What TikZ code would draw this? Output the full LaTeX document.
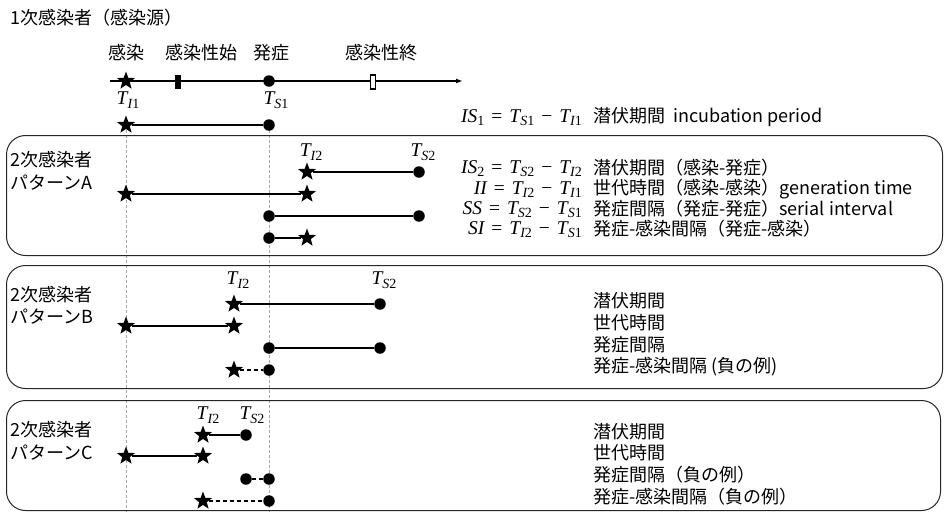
\documentclass[tikz,border=0pt]{standalone}
\usepackage{fontspec}
\setmainfont{Noto Sans CJK JP}
\newfontfamily\eqf{Liberation Serif}
\usetikzlibrary{shapes.geometric,arrows.meta}
\newcommand\mvar[2]{{\eqf\fontsize{19.5}{20}\selectfont\itshape #1}\raisebox{-0.2em}{\eqf\fontsize{14}{14}\selectfont #2}}
\newcommand\iv[1]{{\itshape #1}}
\newcommand\oprel[1]{\hspace{7pt}{\eqf\fontsize{19.5}{20}\selectfont #1}\hspace{7pt}}
\begin{document}
\begin{tikzpicture}[x=1pt,y=-1pt,
  font=\fontsize{18}{22}\selectfont,
  starm/.style={star,star points=5,star point ratio=2.4,minimum size=19pt,inner sep=0pt,fill=black,draw=none},
  dotm/.style={circle,minimum size=11.5pt,inner sep=0pt,fill=black},
  seg/.style={line width=1.6pt},
  dseg/.style={line width=1.6pt,dash pattern=on 4pt off 3pt},
  guide/.style={gray!70,line width=0.6pt,dash pattern=on 3pt off 2pt},
  panel/.style={draw=black!85,line width=1pt,rounded corners=19pt},
  lbl/.style={anchor=west,inner sep=0pt},
  eqn/.style={anchor=east,inner sep=0pt,text height=13pt,text depth=3pt},
  tl/.style={inner sep=0pt}]
\useasboundingbox (0,0) rectangle (944,512);

% guides
\coordinate (g1t) at (126,130); \coordinate (g1b) at (126,512);
\coordinate (g2t) at (269,130); \coordinate (g2b) at (269,512);
\draw[guide] (g1t) -- (g1b);
\draw[guide] (g2t) -- (g2b);

% panels
\node[panel,minimum width=936pt,minimum height=120pt,anchor=north west] (pA) at (6,135) {};
\node[panel,minimum width=936pt,minimum height=123pt,anchor=north west] (pB) at (6,265) {};
\node[panel,minimum width=934pt,minimum height=110pt,anchor=north west] (pC) at (6,400) {};

% title
\node[lbl] (title) at (10,18) {1次感染者（感染源）};

% header
\node[tl] (h1) at (126,53) {感染};
\node[tl] (h2) at (201,53) {感染性始};
\node[tl] (h3) at (271,53) {発症};
\node[tl] (h4) at (381,53) {感染性終};

% timeline
\coordinate (t0) at (110,81);
\coordinate (t1) at (463,81);
\draw[line width=1.5pt,-{Latex[length=7pt,width=5pt]}] (t0) -- (t1);
\node[starm] (ts) at (126,81) {};
\node[fill=black,minimum width=5.5pt,minimum height=14pt,inner sep=0pt] (tr1) at (178,82) {};
\node[dotm] (td) at (269,81) {};
\node[draw=black,line width=1.2pt,fill=white,minimum width=5.5pt,minimum height=14pt,inner sep=0pt] (tr2) at (373,82) {};
\node[tl] (lTI1) at (128,100) {\mvar{T}{\iv{I}1}};
\node[tl] (lTS1) at (276,100) {\mvar{T}{\iv{S}1}};

% row IS1
\node[starm] (r0s) at (126,125) {};
\node[dotm] (r0e) at (269,125) {};
\draw[seg] (r0s) -- (r0e);
\node[eqn] (e0) at (582,117) {\mvar{IS}{1}\oprel{=}\mvar{T}{\iv{S}1}\oprel{−}\mvar{T}{\iv{I}1}};
\node[lbl] (x0) at (593,117) {潜伏期間\ \ incubation period};

% Pattern A
\node[lbl] (pa1) at (10,160) {2次感染者};
\node[lbl] (pa2) at (10,183) {パターンA};
\node[tl] (aTI) at (311,152) {\mvar{T}{\iv{I}2}};
\node[tl] (aTS) at (423,152) {\mvar{T}{\iv{S}2}};
\node[starm] (a1s) at (307,172) {};
\node[dotm] (a1e) at (419,172) {};
\draw[seg] (a1s) -- (a1e);
\node[starm] (a2s) at (126,194) {};
\node[starm] (a2e) at (307,194) {};
\draw[seg] (a2s) -- (a2e);
\node[dotm] (a3s) at (269,216) {};
\node[dotm] (a3e) at (419,216) {};
\draw[seg] (a3s) -- (a3e);
\node[dotm] (a4s) at (269,238) {};
\node[starm] (a4e) at (307,238) {};
\draw[seg] (a4s) -- (a4e);
\node[eqn] (ea1) at (582,168) {\mvar{IS}{2}\oprel{=}\mvar{T}{\iv{S}2}\oprel{−}\mvar{T}{\iv{I}2}};
\node[eqn] (ea2) at (582,189) {\mvar{II}{}\oprel{=}\mvar{T}{\iv{I}2}\oprel{−}\mvar{T}{\iv{I}1}};
\node[eqn] (ea3) at (582,209) {\mvar{SS}{}\oprel{=}\mvar{T}{\iv{S}2}\oprel{−}\mvar{T}{\iv{S}1}};
\node[eqn] (ea4) at (582,229) {\mvar{SI}{}\oprel{=}\mvar{T}{\iv{I}2}\oprel{−}\mvar{T}{\iv{S}1}};
\node[lbl] (xa1) at (593,168) {潜伏期間（感染-発症）};
\node[lbl] (xa2) at (593,189) {世代時間（感染-感染）generation time};
\node[lbl] (xa3) at (593,209) {発症間隔（発症-発症）serial interval};
\node[lbl] (xa4) at (593,229) {発症-感染間隔（発症-感染）};

% Pattern B
\node[lbl] (pb1) at (10,295) {2次感染者};
\node[lbl] (pb2) at (10,317) {パターンB};
\node[tl] (bTI) at (238,280) {\mvar{T}{\iv{I}2}};
\node[tl] (bTS) at (384,280) {\mvar{T}{\iv{S}2}};
\node[starm] (b1s) at (234,304) {};
\node[dotm] (b1e) at (380,304) {};
\draw[seg] (b1s) -- (b1e);
\node[starm] (b2s) at (126,326) {};
\node[starm] (b2e) at (234,326) {};
\draw[seg] (b2s) -- (b2e);
\node[dotm] (b3s) at (269,348) {};
\node[dotm] (b3e) at (380,348) {};
\draw[seg] (b3s) -- (b3e);
\node[starm] (b4s) at (234,370) {};
\node[dotm] (b4e) at (269,370) {};
\draw[dseg] (b4s) -- (b4e);
\node[lbl] (xb1) at (593,301) {潜伏期間};
\node[lbl] (xb2) at (593,323) {世代時間};
\node[lbl] (xb3) at (593,345) {発症間隔};
\node[lbl] (xb4) at (593,367) {発症-感染間隔 (負の例)};

% Pattern C
\node[lbl] (pc1) at (10,430) {2次感染者};
\node[lbl] (pc2) at (10,453) {パターンC};
\node[tl] (cTI) at (208,415) {\mvar{T}{\iv{I}2}};
\node[tl] (cTS) at (252,415) {\mvar{T}{\iv{S}2}};
\node[starm] (c1s) at (203,435) {};
\node[dotm] (c1e) at (246,435) {};
\draw[seg] (c1s) -- (c1e);
\node[starm] (c2s) at (126,456) {};
\node[starm] (c2e) at (203,456) {};
\draw[seg] (c2s) -- (c2e);
\node[dotm] (c3s) at (246,479) {};
\node[dotm] (c3e) at (269,479) {};
\draw[dseg] (c3s) -- (c3e);
\node[starm] (c4s) at (203,501) {};
\node[dotm] (c4e) at (269,501) {};
\draw[dseg] (c4s) -- (c4e);
\node[lbl] (xc1) at (593,432) {潜伏期間};
\node[lbl] (xc2) at (593,453) {世代時間};
\node[lbl] (xc3) at (593,475) {発症間隔（負の例）};
\node[lbl] (xc4) at (593,497) {発症-感染間隔（負の例）};
\end{tikzpicture}
\end{document}
